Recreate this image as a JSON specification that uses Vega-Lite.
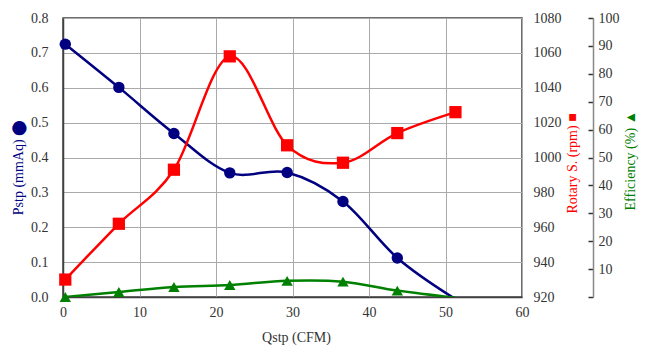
{
  "$schema": "https://vega.github.io/schema/vega-lite/v6.json",
  "width": 459,
  "height": 279,
  "autosize": {"type": "none"},
  "padding": {"left": 63, "top": 18, "right": 125, "bottom": 59},
  "background": "white",
  "config": {
    "font": "Liberation Serif",
    "view": {"stroke": "#404040", "strokeWidth": 1.5},
    "axis": {
      "labelFont": "Liberation Serif",
      "labelFontSize": 14,
      "labelColor": "#333333",
      "titleFont": "Liberation Serif, DejaVu Serif",
      "titleFontSize": 14,
      "titleFontWeight": "normal",
      "gridColor": "#aaaaaa",
      "gridWidth": 1,
      "domainColor": "#404040",
      "domainWidth": 1.5,
      "ticks": false
    }
  },
  "data": {
    "values": [
      {"q": 0.3, "pstp": 0.725, "rpm": 930, "eff": 0},
      {"q": 7.3, "pstp": 0.601, "rpm": 962, "eff": 1.8},
      {"q": 14.5, "pstp": 0.469, "rpm": 993, "eff": 3.6},
      {"q": 21.8, "pstp": 0.356, "rpm": 1058, "eff": 4.3},
      {"q": 29.3, "pstp": 0.357, "rpm": 1007, "eff": 5.8},
      {"q": 36.6, "pstp": 0.274, "rpm": 997, "eff": 5.5},
      {"q": 43.7, "pstp": 0.112, "rpm": 1014, "eff": 2.3},
      {"q": 51.3, "pstp": -0.006, "rpm": 1026, "eff": -0.3}
    ]
  },
  "encoding": {
    "x": {
      "field": "q",
      "type": "quantitative",
      "scale": {"domain": [0, 60], "nice": false},
      "axis": {
        "values": [0, 10, 20, 30, 40, 50, 60],
        "title": "Qstp (CFM)",
        "titleColor": "#333333",
        "labelPadding": 8,
        "labelFlush": false,
        "grid": true,
        "titleX": 233,
        "titleY": 40,
        "titleBaseline": "middle"
      }
    }
  },
  "layer": [
    {
      "encoding": {
        "y": {
          "field": "pstp",
          "type": "quantitative",
          "scale": {"domain": [0, 0.8], "nice": false, "zero": false},
          "axis": {
            "orient": "left",
            "values": [0, 0.1, 0.2, 0.3, 0.4, 0.5, 0.6, 0.7, 0.8],
            "format": ".1f",
            "grid": true,
            "labelPadding": 15,
            "title": "Pstp (mmAq) ⬤",
            "titleColor": "#000080",
            "titleAngle": 270,
            "titleX": -45,
            "titleY": 149,
            "titleBaseline": "middle",
            "titleAlign": "center"
          }
        }
      },
      "layer": [
        {"mark": {"type": "line", "color": "#000080", "strokeWidth": 2.5, "interpolate": "cardinal", "clip": true}},
        {
          "transform": [{"filter": "datum.pstp >= 0"}],
          "mark": {"type": "point", "shape": "circle", "filled": true, "opacity": 1, "color": "#000080", "size": 130}
        }
      ]
    },
    {
      "encoding": {
        "y": {
          "field": "rpm",
          "type": "quantitative",
          "scale": {"domain": [920, 1080], "nice": false, "zero": false},
          "axis": {
            "orient": "right",
            "values": [920, 940, 960, 980, 1000, 1020, 1040, 1060, 1080],
            "format": "d",
            "grid": false,
            "domain": false,
            "labelPadding": 11,
            "title": "Rotary S. (rpm) ■",
            "titleColor": "#ff0000",
            "titleAngle": 270,
            "titleX": 50,
            "titleY": 145,
            "titleBaseline": "middle",
            "titleAlign": "center"
          }
        }
      },
      "layer": [
        {"mark": {"type": "line", "color": "#ff0000", "strokeWidth": 2.5, "interpolate": "cardinal", "clip": true}},
        {"mark": {"type": "point", "shape": "square", "filled": true, "opacity": 1, "color": "#ff0000", "size": 150}}
      ]
    },
    {
      "encoding": {
        "y": {
          "field": "eff",
          "type": "quantitative",
          "scale": {"domain": [0, 100], "nice": false, "zero": false},
          "axis": {
            "orient": "right",
            "offset": 71,
            "values": [0, 10, 20, 30, 40, 50, 60, 70, 80, 90, 100],
            "labelExpr": "datum.value == 0 ? '' : datum.label",
            "grid": false,
            "domain": true,
            "domainColor": "#888888",
            "ticks": true,
            "tickSize": -5,
            "tickColor": "#333333",
            "tickWidth": 1.5,
            "labelPadding": 10,
            "title": "Efficiency (%) ▲",
            "titleColor": "#008000",
            "titleAngle": 270,
            "titleX": 37,
            "titleY": 142,
            "titleBaseline": "middle",
            "titleAlign": "center"
          }
        }
      },
      "layer": [
        {"mark": {"type": "line", "color": "#008000", "strokeWidth": 2.5, "interpolate": "cardinal", "clip": true}},
        {
          "transform": [{"filter": "datum.eff >= 0"}],
          "mark": {"type": "point", "shape": "triangle-up", "filled": true, "opacity": 1, "color": "#008000", "size": 130}
        }
      ]
    }
  ],
  "resolve": {"scale": {"y": "independent"}, "axis": {"y": "independent"}}
}
